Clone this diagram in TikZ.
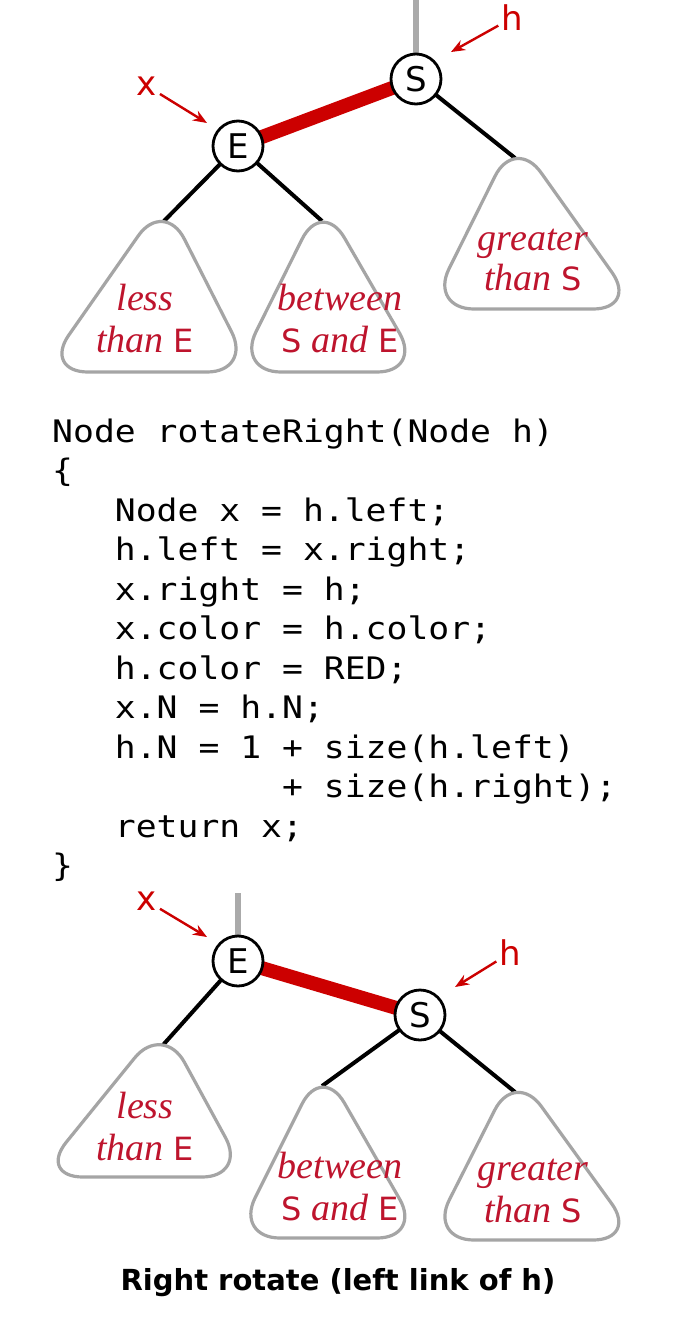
\documentclass[tikz,border=0pt]{standalone}
\usepackage{fontspec}
\setmainfont{Liberation Serif}
\newfontfamily\lsans{DejaVu Sans}
\newfontfamily\lmono[FakeStretch=1.12]{DejaVu Sans Mono}
\usetikzlibrary{arrows.meta}
\definecolor{linkred}{RGB}{204,0,0}
\definecolor{lblred}{RGB}{190,20,45}
\definecolor{treegray}{RGB}{165,165,165}
\definecolor{stubgray}{RGB}{170,170,170}
\newcommand\KS[1]{{\lsans\upshape\fontsize{32}{42}\selectfont #1}}
\newcommand\subtree[6]{%
  \coordinate (#1) at (#2,#3);
  \draw[subtri] ({(#4+#5)/2},#6) -- ({#5+17},#6) -- (#2,{#3-22}) -- ({#4-17},#6) -- cycle;}
\pgfdeclarelayer{bg}
\pgfdeclarelayer{links}
\pgfsetlayers{bg,links,main}
\begin{document}
\begin{tikzpicture}[x=1pt,y=-1pt,
  vertex/.style={circle, draw=black, line width=2.8pt, fill=white, minimum size=50pt, inner sep=0pt, font=\lsans\fontsize{34}{34}\selectfont},
  tlink/.style={line width=4pt, black},
  rlink/.style={line width=14pt, linkred},
  stubline/.style={line width=6pt, stubgray},
  ptr/.style={linkred, line width=2.4pt, -{Stealth[length=14pt,width=11pt]}, shorten <=2pt},
  ptrlbl/.style={text=linkred, font=\lsans\fontsize{34}{34}\selectfont, inner sep=1pt},
  subtri/.style={draw=treegray, line width=3.2pt, rounded corners=45pt},
  lbl/.style={text=lblred, font=\itshape\fontsize{38}{42}\selectfont, anchor=base, inner sep=0pt},
  code/.style={anchor=base west, inner sep=0pt, font=\lmono\fontsize{31}{39.5}\selectfont},
  caption/.style={font=\lsans\bfseries\fontsize{29}{29}\selectfont, inner sep=0pt}]
\begin{pgfonlayer}{bg}
\fill[white] (0,0) rectangle (680,1318);
\end{pgfonlayer}
\useasboundingbox (0,0) rectangle (680,1318);

% ---------- top tree ----------
\coordinate (tStub) at (416,0);
\node[vertex] (tS) at (416,79) {S};
\node[vertex] (tE) at (238,146) {E};
\subtree{tL}{164}{221}{60}{235}{372}
\subtree{tM}{322}{221}{253}{405}{372}
\subtree{tR}{515}{158}{446}{621}{309}
\begin{pgfonlayer}{links}
\draw[stubline] (tStub) -- (tS.center);
\draw[rlink] (tE.center) -- (tS.center);
\draw[tlink] (tE.center) -- (tL);
\draw[tlink] (tE.center) -- (tM);
\draw[tlink] (tS.center) -- (tR);
\end{pgfonlayer}
\node[ptrlbl] (th) at (512,18) {h};
\coordinate (thTip) at (451,52);
\draw[ptr] (th) -- (thTip);
\node[ptrlbl] (tx) at (147,86) {x};
\coordinate (txTip) at (207,123);
\draw[ptr] (tx) -- (txTip);
\node[lbl] (tLa) at (145,310) {less};
\node[lbl] (tLb) at (145,352) {than \KS{E}};
\node[lbl] (tMa) at (340,310) {between};
\node[lbl] (tMb) at (340,352) {\KS{S} and \KS{E}};
\node[lbl] (tRa) at (533,250) {greater};
\node[lbl] (tRb) at (533,290) {than \KS{S}};

% ---------- code ----------
\node[code] (c0) at (52,442) {Node rotateRight(Node h)};
\node[code] (c1) at (52,481.5) {\{};
\node[code] (c2) at (114.7,521) {Node x = h.left;};
\node[code] (c3) at (114.7,560.5) {h.left = x.right;};
\node[code] (c4) at (114.7,600) {x.right = h;};
\node[code] (c5) at (114.7,639.5) {x.color = h.color;};
\node[code] (c6) at (114.7,679) {h.color = RED;};
\node[code] (c7) at (114.7,718.5) {x.N = h.N;};
\node[code] (c8) at (114.7,758) {h.N = 1 + size(h.left)};
\node[code] (c9) at (281.9,797.5) {+ size(h.right);};
\node[code] (c10) at (114.7,837) {return x;};
\node[code] (c11) at (52,876.5) {\}};

% ---------- bottom tree ----------
\coordinate (bStub) at (238,893);
\node[vertex] (bE) at (238,961) {E};
\node[vertex] (bS) at (420,1015) {S};
\subtree{bL}{163}{1045}{55}{230}{1177}
\subtree{bM}{322}{1086}{252}{405}{1238}
\subtree{bR}{515}{1092}{446}{621}{1240}
\begin{pgfonlayer}{links}
\draw[stubline] (bStub) -- (bE.center);
\draw[rlink] (bE.center) -- (bS.center);
\draw[tlink] (bE.center) -- (bL);
\draw[tlink] (bS.center) -- (bM);
\draw[tlink] (bS.center) -- (bR);
\end{pgfonlayer}
\node[ptrlbl] (bx) at (147,901) {x};
\coordinate (bxTip) at (207,937);
\draw[ptr] (bx) -- (bxTip);
\node[ptrlbl] (bh) at (510,953) {h};
\coordinate (bhTip) at (455,987);
\draw[ptr] (bh) -- (bhTip);
\node[lbl] (bLa) at (145,1118) {less};
\node[lbl] (bLb) at (145,1160) {than \KS{E}};
\node[lbl] (bMa) at (340,1178) {between};
\node[lbl] (bMb) at (340,1220) {\KS{S} and \KS{E}};
\node[lbl] (bRa) at (533,1180) {greater};
\node[lbl] (bRb) at (533,1222) {than \KS{S}};

\node[caption] (cap) at (338,1283) {Right rotate (left link of h)};
\end{tikzpicture}
\end{document}
